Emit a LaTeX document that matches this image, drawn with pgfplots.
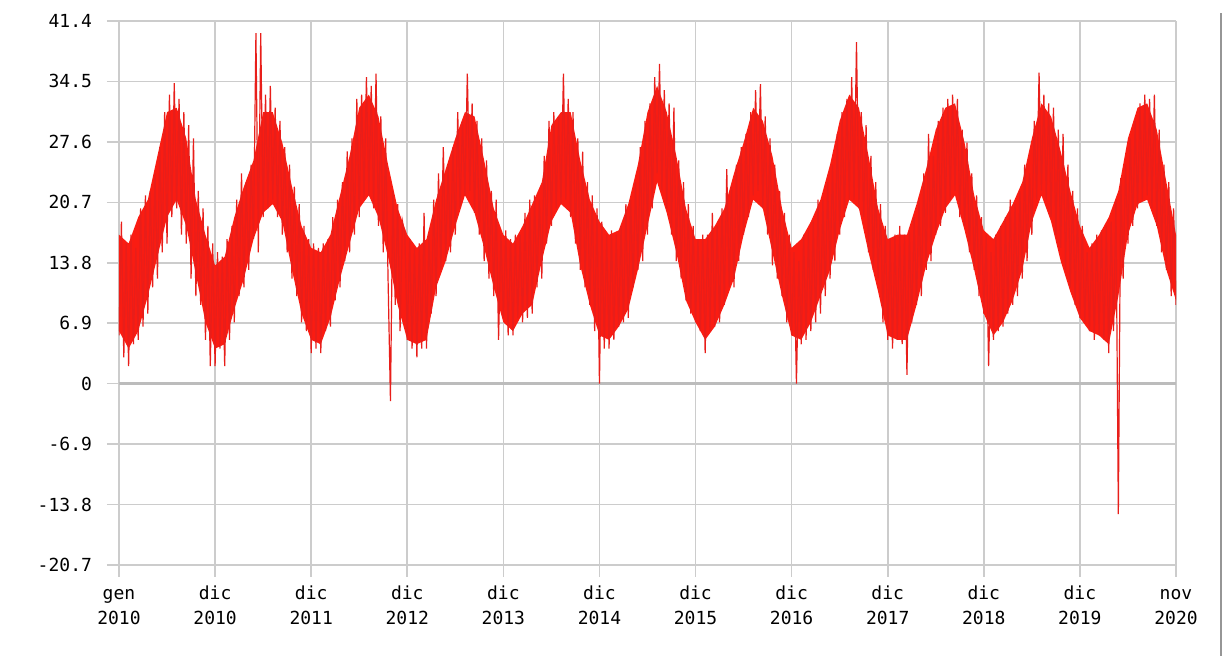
\documentclass[border=0pt]{standalone}
\usepackage{fontspec}
\setmainfont{DejaVu Sans Mono}
\usepackage{pgfplots}
\pgfplotsset{compat=1.18}
\usepackage{pgfplotstable}
\usepgfplotslibrary{fillbetween}
\definecolor{gridgray}{RGB}{204,204,204}
\definecolor{zerogray}{RGB}{188,188,188}
\definecolor{band}{RGB}{250,28,18}
\definecolor{edge}{RGB}{232,30,26}
\definecolor{framegray}{RGB}{150,150,150}

\pgfplotstableread{
u U L
0.0 17 6
0.1 16 4
0.2 19 6
0.3 21 10
0.4 26 14.5
0.5 31 19
0.6 31.5 21
0.7 28 18
0.8 21 12.5
0.9 17 7
1.0 13.5 4
1.1 14.5 4.5
1.2 19 8.5
1.3 22.5 12
1.4 25.5 16.5
1.5 31 19.5
1.6 31 20.5
1.7 27.5 18.5
1.8 22.5 13
1.9 18 8
2.0 15.5 5
2.1 15 4.5
2.2 17 7.5
2.3 21.5 12
2.4 26 16
2.5 31.5 20
2.6 33 21.5
2.7 30.5 19
2.8 25 14.5
2.9 20 9
3.0 17 5
3.1 15.5 4.5
3.2 16.5 5
3.3 21 11
3.4 24.5 14
3.5 28 18
3.6 31 21.5
3.7 30.5 19.5
3.8 25.5 15.5
3.9 20 11
4.0 17 7
4.1 16 6
4.2 18 8
4.3 20.5 9
4.4 23 14
4.5 29.5 18.5
4.6 31 20.5
4.7 31 19.5
4.8 25.5 13.5
4.9 21 9
5.0 18.5 5.5
5.1 17 5
5.2 17.5 6.5
5.3 20.5 8.5
5.4 25 13
5.5 31 18
5.6 34 23
5.7 31 19.5
5.8 26 15
5.9 20 9.5
6.0 16.5 7
6.1 16.5 5
6.2 18 6.5
6.3 20 9
6.4 24 12
6.5 27.5 17
6.6 31.5 21
6.7 30 20
6.8 26 15
6.9 20 10
7.0 15.5 5.5
7.1 16.5 5
7.2 18.5 7
7.3 21 10
7.4 25 13
7.5 30 17.5
7.6 33 21
7.7 31.5 20
7.8 26 15
7.9 20 10.5
8.0 16.5 5.5
8.1 17 5
8.2 17 5
8.3 20.5 9
8.4 24.5 13.5
8.5 29 17
8.6 31.5 20
8.7 32 21.5
8.8 27.5 17.5
8.9 21.5 13
9.0 17.5 8
9.1 16.5 5.5
9.2 18.5 7
9.3 20.5 9.5
9.4 23 13
9.5 28 18.5
9.6 32 21.5
9.7 30.5 18.5
9.8 26.5 14
9.9 22 10.5
10.0 18 7.5
10.1 15.5 6
10.2 17 5.5
10.3 19 4.5
10.4 22 10
10.5 28 17
10.6 31.5 20.5
10.7 32 21
10.8 29 18
10.9 23 13
11.0 17 9.5
}\envtable

\begin{document}
\begin{tikzpicture}
\begin{axis}[
  at={(0,0)}, anchor=south west,
  scale only axis,
  width=528.5pt, height=272pt,
  xmin=0, xmax=11, ymin=-20.7, ymax=41.4,
  axis line style={draw=none},
  xtick={0,1,2,3,4,5,6,7,8,9,10,11},
  xticklabels={{\strut gen\\2010},{\strut dic\\2010},{\strut dic\\2011},{\strut dic\\2012},{\strut dic\\2013},{\strut dic\\2014},{\strut dic\\2015},{\strut dic\\2016},{\strut dic\\2017},{\strut dic\\2018},{\strut dic\\2019},{\strut nov\\2020}},
  ytick={-20.7,-13.8,-6.9,0,6.9,13.8,20.7,27.6,34.5,41.4},
  yticklabels={-20.7,-13.8,-6.9,0,6.9,13.8,20.7,27.6,34.5,41.4},
  extra y ticks={0},
  extra y tick labels={},
  extra y tick style={major grid style={color=zerogray, line width=1.6pt}, major tick length=0pt},
  xtick pos=left, ytick pos=left,
  tick align=outside,
  major tick length=6pt,
  tick style={color=gridgray, line width=0.8pt},
  grid=major,
  major grid style={color=gridgray, line width=0.8pt},
  tick label style={font=\fontsize{9}{12.5}\selectfont, text=black},
  xticklabel style={align=center, yshift=1pt},
  yticklabel style={xshift=-4pt},
  clip=true,
]
\addplot[draw=none, name path=U, forget plot] table[x=u, y=U] {\envtable};
\addplot[draw=none, name path=L, forget plot] table[x=u, y=L] {\envtable};
\addplot[band, draw=none] fill between[of=U and L];
\addplot[edge, line width=0.6pt, line join=miter] coordinates {
(0,5.5)(0.025,18.5)(0.05,3)(0.075,16)
(0.1,2)(0.125,17)(0.15,4.5)(0.175,15.5)
(0.2,5)(0.225,20)(0.25,6.5)(0.275,21.5)
(0.3,8)(0.325,22)(0.35,11)(0.375,24)
(0.4,12)(0.425,27)(0.45,15)(0.475,31)
(0.5,16)(0.525,33)(0.55,19)(0.575,34.3)
(0.6,20)(0.625,32.5)(0.65,17)(0.675,31)
(0.7,16)(0.725,29.5)(0.75,12)(0.775,28)
(0.8,10)(0.825,22)(0.85,9)(0.875,20)
(0.9,5)(0.925,18)(0.95,2)(0.975,16)
(1.0,2)(1.025,15)(1.05,4)(1.075,14.5)
(1.1,2)(1.125,16.5)(1.15,5)(1.175,18)
(1.2,7)(1.225,21)(1.25,10)(1.275,24)
(1.3,11)(1.325,23)(1.35,13)(1.375,25)
(1.4,16.5)(1.425,40)(1.45,15)(1.475,40)
(1.5,19)(1.525,33)(1.55,20)(1.575,34)
(1.6,21)(1.625,31.5)(1.65,19)(1.675,30)
(1.7,17)(1.725,27)(1.75,15)(1.775,25)
(1.8,12)(1.825,22.5)(1.85,10)(1.875,20.5)
(1.9,7)(1.925,18)(1.95,6)(1.975,16.5)
(2.0,3.5)(2.025,16)(2.05,4)(2.075,15.5)
(2.1,3.5)(2.125,16)(2.15,6)(2.175,16.5)
(2.2,6.5)(2.225,19)(2.25,9.5)(2.275,21)
(2.3,11)(2.325,23)(2.35,14)(2.375,26.5)
(2.4,15)(2.425,28)(2.45,17)(2.475,32.5)
(2.5,19)(2.525,33)(2.55,21)(2.575,35)
(2.6,21.5)(2.625,34)(2.65,20)(2.675,35.4)
(2.7,18)(2.725,30.5)(2.75,15)(2.775,28)
(2.8,12)(2.825,-2)(2.85,22)(2.875,9)
(2.9,20.5)(2.925,6)(2.95,18.5)(2.975,17)
(3.0,5)(3.025,16.5)(3.05,4)(3.075,15.5)
(3.1,3)(3.125,16)(3.15,4)(3.175,19.5)
(3.2,4)(3.225,17)(3.25,8)(3.275,21)
(3.3,10)(3.325,24)(3.35,13)(3.375,27)
(3.4,14)(3.425,25)(3.45,15)(3.475,27)
(3.5,17)(3.525,31)(3.55,20)(3.575,30)
(3.6,21.5)(3.625,35.4)(3.65,22)(3.675,32)
(3.7,19.5)(3.725,30)(3.75,17)(3.775,28)
(3.8,14)(3.825,25.5)(3.85,12)(3.875,22)
(3.9,10)(3.925,21)(3.95,5)(3.975,17)
(4.0,7.5)(4.025,17.5)(4.05,5.5)(4.075,16.5)
(4.1,5.5)(4.125,17)(4.15,7.5)(4.175,17)
(4.2,7)(4.225,19.5)(4.25,7.5)(4.275,21)
(4.3,8)(4.325,21.5)(4.35,11)(4.375,21)
(4.4,12)(4.425,26)(4.45,16)(4.475,30)
(4.5,18)(4.525,31)(4.55,20)(4.575,30.5)
(4.6,20.5)(4.625,35.4)(4.65,21)(4.675,32.5)
(4.7,19)(4.725,31)(4.75,16)(4.775,28)
(4.8,13)(4.825,26.5)(4.85,11)(4.875,23)
(4.9,9)(4.925,21.5)(4.95,6)(4.975,20)
(5.0,0)(5.025,18.5)(5.05,4)(5.075,17)
(5.1,4)(5.125,17.5)(5.15,5)(5.175,17)
(5.2,6.5)(5.225,18)(5.25,7)(5.275,20.5)
(5.3,7.5)(5.325,21)(5.35,11)(5.375,23)
(5.4,13)(5.425,27)(5.45,14)(5.475,30)
(5.5,17)(5.525,32)(5.55,20)(5.575,35)
(5.6,24)(5.625,36.5)(5.65,22)(5.675,33.5)
(5.7,20)(5.725,32)(5.75,17)(5.775,31.5)
(5.8,14)(5.825,25.5)(5.85,12)(5.875,23)
(5.9,9.5)(5.925,20.5)(5.95,8)(5.975,18)
(6.0,7)(6.025,16.5)(6.05,6)(6.075,17)
(6.1,3.5)(6.125,17)(6.15,6)(6.175,19.5)
(6.2,6.5)(6.225,18)(6.25,7)(6.275,20)
(6.3,9)(6.325,24.5)(6.35,11)(6.375,22.5)
(6.4,11)(6.425,25)(6.45,14)(6.475,27)
(6.5,17)(6.525,28.5)(6.55,19)(6.575,31)
(6.6,21.5)(6.625,33.5)(6.65,22)(6.675,34.2)
(6.7,20)(6.725,30.5)(6.75,17)(6.775,28)
(6.8,13.5)(6.825,25)(6.85,12)(6.875,22)
(6.9,10)(6.925,19.5)(6.95,7)(6.975,17)
(7.0,5.5)(7.025,15)(7.05,0)(7.075,14)
(7.1,4.5)(7.125,17)(7.15,5)(7.175,17.5)
(7.2,6)(7.225,18.5)(7.25,7)(7.275,21)
(7.3,8)(7.325,21)(7.35,10)(7.375,23)
(7.4,12)(7.425,25)(7.45,14)(7.475,28.5)
(7.5,17)(7.525,31)(7.55,19)(7.575,32.5)
(7.6,21)(7.625,35)(7.65,21)(7.675,39)
(7.7,20)(7.725,31)(7.75,19)(7.775,29.5)
(7.8,15)(7.825,26)(7.85,13)(7.875,23)
(7.9,12)(7.925,20.5)(7.95,7)(7.975,18)
(8.0,5)(8.025,16.5)(8.05,4)(8.075,17)
(8.1,5)(8.125,18)(8.15,4.5)(8.175,17)
(8.2,1)(8.225,17.5)(8.25,7)(8.275,19)
(8.3,9)(8.325,21)(8.35,10)(8.375,24)
(8.4,13)(8.425,28.5)(8.45,14)(8.475,26)
(8.5,17)(8.525,30)(8.55,18)(8.575,31.5)
(8.6,19.5)(8.625,32.5)(8.65,21)(8.675,33)
(8.7,22)(8.725,32.5)(8.75,19)(8.775,29)
(8.8,18)(8.825,27.5)(8.85,15)(8.875,24)
(8.9,13)(8.925,21.5)(8.95,10)(8.975,19)
(9.0,8)(9.025,17)(9.05,2)(9.075,15)
(9.1,5)(9.125,17)(9.15,6)(9.175,18)
(9.2,6.5)(9.225,19)(9.25,8)(9.275,21)
(9.3,9)(9.325,20.5)(9.35,10)(9.375,22)
(9.4,12)(9.425,25)(9.45,14)(9.475,24)
(9.5,17)(9.525,30)(9.55,21)(9.575,35.5)
(9.6,22)(9.625,33)(9.65,21)(9.675,32)
(9.7,19)(9.725,31.5)(9.75,17)(9.775,29)
(9.8,15.5)(9.825,28.5)(9.85,13)(9.875,25)
(9.9,11)(9.925,22)(9.95,9)(9.975,20)
(10.0,7.5)(10.025,18)(10.05,7)(10.075,15)
(10.1,6)(10.125,16)(10.15,5)(10.175,17)
(10.2,5.5)(10.225,17.5)(10.25,5)(10.275,18)
(10.3,3.5)(10.325,18.5)(10.35,6)(10.375,21)
(10.4,-14.9)(10.425,23.5)(10.45,12)(10.475,25)
(10.5,16)(10.525,28)(10.55,18)(10.575,30)
(10.6,20)(10.625,32)(10.65,21)(10.675,33)
(10.7,21.5)(10.725,32.5)(10.75,20)(10.775,33)
(10.8,18)(10.825,29)(10.85,15)(10.875,25)
(10.9,13)(10.925,23)(10.95,10)(10.975,20)
(11.0,9)
};
\end{axis}
\draw[framegray, line width=0.8pt] (550.9pt,-45.5pt) -- (550.9pt,276pt);
\path (-59.5pt,-45.5pt) rectangle (552pt,282.5pt);
\end{tikzpicture}
\end{document}
